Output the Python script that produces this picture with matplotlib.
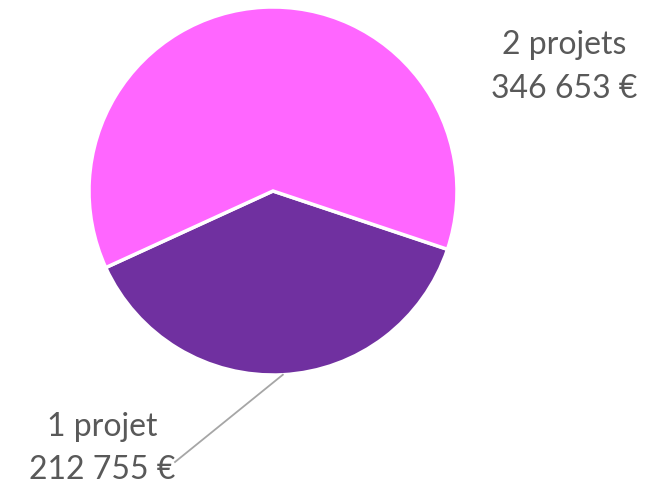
"""Pie of amounts by number of projects."""

import matplotlib.pyplot as plt
import numpy as np

# Data
labels = ['1 projet', '2 projets']
amounts = [212755, 346653]
colors = ['#7030A0', '#FF66FF']
text_color = '#595959'


def euro(v):
    return f'{v:,}'.replace(',', ' ') + ' €'


plt.rcParams['font.family'] = ['Lato', 'DejaVu Sans']

fig = plt.figure(figsize=(6.66, 4.88), dpi=100)
ax = fig.add_axes([0, 0, 1, 1])

center = (273, 297)
radius = 184
wedges, _ = ax.pie(amounts, colors=colors, startangle=204.6, counterclock=True,
                   center=center, radius=radius, frame=True,
                   wedgeprops=dict(edgecolor='white', linewidth=2.5))
ax.set_xlim(0, 666)
ax.set_ylim(0, 488)
ax.set_aspect('equal')
ax.axis('off')

# Label for the small slice with a leader line from the mid angle
w = wedges[0]
mid = np.deg2rad((w.theta1 + w.theta2) / 2)
edge = (center[0] + radius * np.cos(mid), center[1] + radius * np.sin(mid))
ax.plot([edge[0], 175], [edge[1], 26], color='#A6A6A6', lw=1.3)
ax.text(102, 61, labels[0], ha='center', va='center', fontsize=23, color=text_color)
ax.text(102, 18, euro(amounts[0]), ha='center', va='center', fontsize=23, color=text_color)

ax.text(564, 443, labels[1], ha='center', va='center', fontsize=23, color=text_color)
ax.text(564, 399, euro(amounts[1]), ha='center', va='center', fontsize=23, color=text_color)

fig.savefig('out.png', dpi=100)
